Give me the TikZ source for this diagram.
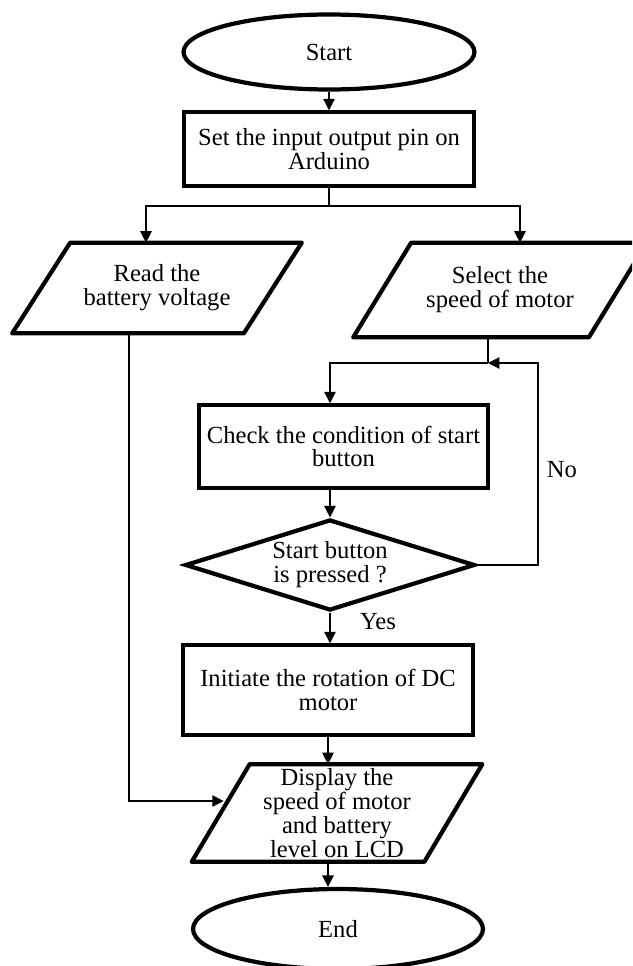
\documentclass[tikz,border=0pt]{standalone}
\usepackage{fontspec}
\setmainfont{Liberation Serif}
\usetikzlibrary{shapes.geometric,arrows.meta,calc}

\tikzset{
  every node/.style={font=\fontsize{14}{13.6}\selectfont},
  term/.style={draw,ellipse,line width=2.4pt,minimum width=5.82cm,minimum height=1.5cm,inner sep=0pt},
  proc/.style={draw,rectangle,line width=2pt,minimum width=5.8cm,align=center,inner sep=0pt},
  io/.style={rectangle,align=center,inner sep=0pt},
  decision/.style={draw,diamond,aspect=3.2,line width=2.4pt,minimum width=5.8cm,minimum height=1.82cm,inner sep=0pt,align=center},
  flow/.style={line width=0.7pt},
  shapeline/.style={line width=2.4pt,line join=round}
}
%borde del paralelogramo
\newcommand{\iobox}[1]{\draw[shapeline] ($(#1.north west)+(29,0)$) -- ($(#1.north east)+(29,0)$) -- ($(#1.south east)+(-29,0)$) -- ($(#1.south west)+(-29,0)$) -- cycle;}

\begin{document}
\begin{tikzpicture}[x=0.02cm,y=-0.02cm,>={Triangle[length=6.5pt,width=6.5pt]}]
    \useasboundingbox (0,0) rectangle (632,966);
    \clip (0,0) rectangle (632,966);
    %inicio
    \node[term] at (329,52) (start) {Start};
    \node[proc,minimum height=1.48cm] at (329,149) (set) {Set the input output pin on\\Arduino};
    %%%% ENTRADAS
    \node[io,minimum width=4.62cm,minimum height=1.8cm] at (157,288) (read) {Read the\\battery voltage};
    \iobox{read}
    \node[io,minimum width=4.7cm,minimum height=1.88cm] at (500,290) (sel) {Select the\\speed of motor};
    \iobox{sel}
    %%%% LAZO DEL BOTON
    \node[proc,minimum width=5.78cm,minimum height=1.66cm] at (343.5,446.5) (check) {Check the condition of start\\button};
    \node[decision] at (330,565) (press) {Start button\\is pressed ?};
    \node[proc,minimum height=1.8cm] at (328,690) (init) {Initiate the rotation of DC\\motor};
    \node[io,minimum width=4.64cm,minimum height=1.94cm] at (337,813) (disp) {Display the\\speed of motor\\and battery\\level on LCD};
    \iobox{disp}
    \node[term,minimum width=5.8cm,minimum height=1.6cm] at (338,929) (end) {End};
    %puntos de quiebre
    \coordinate (split) at (329,206);
    \coordinate (lbranch) at (146,206);
    \coordinate (rbranch) at (520,206);
    \coordinate (join) at (488,363);
    \coordinate (noturn) at (538,363);
    \coordinate (lcorner) at (129,801);
    %%%% FLECHAS
    \draw[flow,->] (start) -- (set);
    \draw[flow] (set.south) -- (split);
    \draw[flow,->] (split) -| (lbranch |- read.north);
    \draw[flow,->] (split) -| (rbranch |- sel.north);
    \draw[flow] (join |- sel.south) -- (join);
    \draw[flow,->] (join) -| (press.north |- check.north);
    \draw[flow,->] (check.south -| press.north) -- (press.north);
    \draw[flow,->] (press.east) -| (noturn) -- (join);
    \node at (562,470) (no) {No};
    \draw[flow,->] (press.south) -- (press.south |- init.north);
    \node at (378,622) (yes) {Yes};
    \draw[flow,->] (init.south) -- (init.south |- disp.north);
    \draw[flow,->] (disp.south -| init.south) -- (end.north -| init.south);
    \draw[flow,->] (lcorner |- read.south) -- (lcorner) -- ($(lcorner -| disp.west)+(3,0)$);
\end{tikzpicture}
\end{document}
